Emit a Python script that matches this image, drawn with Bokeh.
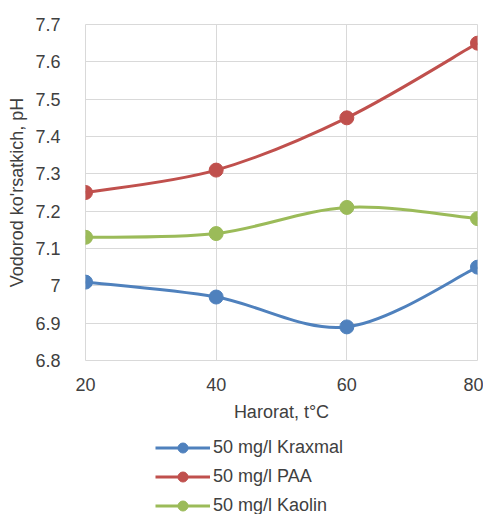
from bokeh.plotting import figure
from bokeh.models import Range1d, FixedTicker, Legend, LegendItem
from bokeh.layouts import column
from bokeh.embed import file_html
from bokeh.resources import INLINE

temps = [20, 40, 60, 80]
kraxmal = [7.01, 6.97, 6.89, 7.05]
paa = [7.25, 7.31, 7.45, 7.65]
kaolin = [7.13, 7.14, 7.21, 7.18]
series_names = ["50 mg/l Kraxmal", "50 mg/l PAA", "50 mg/l Kaolin"]
series_colors = ["#4F81BD", "#C0504D", "#9BBB59"]
y_ticks = [6.8, 6.9, 7, 7.1, 7.2, 7.3, 7.4, 7.5, 7.6, 7.7]
y_tick_labels = ["6.8", "6.9", "7", "7.1", "7.2", "7.3", "7.4", "7.5", "7.6", "7.7"]
x_ticks = [20, 40, 60, 80]

FONT = "Liberation Sans"
TXT = "#404040"
GRID = "#D9D9D9"

p = figure(width=483, height=428, output_backend="svg", toolbar_location=None,
           x_range=Range1d(20, 80), y_range=Range1d(6.8, 7.7),
           min_border_left=85, min_border_top=24, min_border_right=6, min_border_bottom=68)

def smooth_controls(xs, ys):
    n = len(xs)
    x0, y0, x1, y1, cx0, cy0, cx1, cy1 = [], [], [], [], [], [], [], []
    for i in range(n - 1):
        pxm = xs[i - 1] if i > 0 else xs[i]
        pym = ys[i - 1] if i > 0 else ys[i]
        pxp = xs[i + 2] if i + 2 < n else xs[i + 1]
        pyp = ys[i + 2] if i + 2 < n else ys[i + 1]
        x0.append(xs[i]); y0.append(ys[i])
        x1.append(xs[i + 1]); y1.append(ys[i + 1])
        cx0.append(xs[i] + (xs[i + 1] - pxm) / 6.0)
        cy0.append(ys[i] + (ys[i + 1] - pym) / 6.0)
        cx1.append(xs[i + 1] - (pxp - xs[i]) / 6.0)
        cy1.append(ys[i + 1] - (pyp - ys[i]) / 6.0)
    return dict(x0=x0, y0=y0, x1=x1, y1=y1, cx0=cx0, cy0=cy0, cx1=cx1, cy1=cy1)

# legend strip (separate figure under the chart)
p2 = figure(width=483, height=86, output_backend="svg", toolbar_location=None,
            x_range=Range1d(0, 1), y_range=Range1d(0, 1),
            x_axis_location=None, y_axis_location=None, min_border=0)
p2.outline_line_color = None
p2.grid.visible = False

items = []
for name, ys, col in zip(series_names, [kraxmal, paa, kaolin], series_colors):
    c = smooth_controls(temps, ys)
    p.bezier(line_color=col, line_width=3, **c)
    p.scatter(temps, ys, size=14, fill_color=col, line_color=col)
    lr = p2.line(temps, ys, line_color=col, line_width=3)
    sr = p2.scatter(temps, ys, size=14, fill_color=col, line_color=col)
    items.append(LegendItem(label=name, renderers=[lr, sr]))

legend = Legend(items=items, orientation="vertical", location=(70, -4),
                label_text_font=FONT, label_text_font_size="18px", label_text_color=TXT,
                glyph_width=55, glyph_height=25, label_height=25, spacing=4,
                label_standoff=3, padding=0, margin=0,
                border_line_color=None, background_fill_alpha=0)
p2.add_layout(legend, "center")

p.xaxis.ticker = FixedTicker(ticks=x_ticks)
p.yaxis.ticker = FixedTicker(ticks=y_ticks)
p.yaxis.major_label_overrides = {t: l for t, l in zip(y_ticks, y_tick_labels)}
p.xaxis.axis_label = "Harorat, t°C"
p.yaxis.axis_label = "Vodorod ko'rsatkich, pH"
for ax in (p.xaxis, p.yaxis):
    ax.axis_line_color = None
    ax.major_tick_line_color = None
    ax.minor_tick_line_color = None
    ax.major_label_text_font = FONT
    ax.major_label_text_font_size = "18px"
    ax.major_label_text_color = TXT
    ax.axis_label_text_font = FONT
    ax.axis_label_text_font_size = "18px"
    ax.axis_label_text_font_style = "normal"
    ax.axis_label_text_color = TXT
p.xaxis.major_label_standoff = 11
p.yaxis.major_label_standoff = 19
p.xaxis.axis_label_standoff = 8
p.yaxis.axis_label_standoff = 5

p.xgrid.grid_line_color = GRID
p.ygrid.grid_line_color = GRID
p.outline_line_color = GRID
p.outline_line_width = 1

layout = column(p, p2, spacing=0)
open("out.html", "w").write(file_html(layout, INLINE))
